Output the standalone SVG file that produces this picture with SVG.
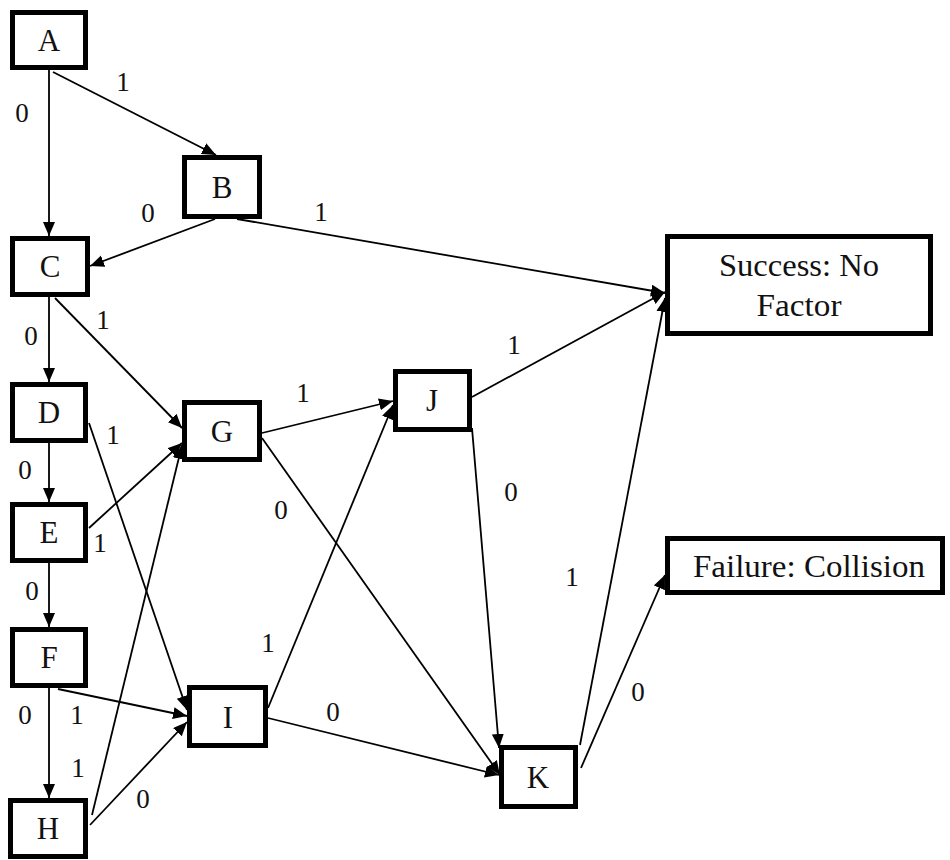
<svg xmlns="http://www.w3.org/2000/svg" width="950" height="860" viewBox="0 0 950 860">
<style>
.box{fill:#fff;stroke:#000;stroke-width:5}
.nl{font-family:"Liberation Serif","DejaVu Serif","Times New Roman",serif;font-size:31px;text-anchor:middle;fill:#111}
.el{font-family:"Liberation Serif","DejaVu Serif","Times New Roman",serif;font-size:27px;text-anchor:middle;fill:#111}
.e{stroke:#000;stroke-width:1.8;fill:none;marker-end:url(#ah)}
</style>
<defs>
<marker id="ah" markerUnits="userSpaceOnUse" markerWidth="15" markerHeight="13" refX="14" refY="6" orient="auto">
<path d="M0,0 L14,6 L0,12 z" fill="#000"/>
</marker>
</defs>
<rect width="950" height="860" fill="#fff"/>
<g id="connectors">
<line class="e" x1="49" y1="70" x2="49" y2="236"/>
<line class="e" x1="53" y1="72" x2="216" y2="155"/>
<line class="e" x1="215" y1="219" x2="90" y2="266"/>
<line class="e" x1="237" y1="219" x2="665" y2="293"/>
<line class="e" x1="49" y1="297" x2="49" y2="382"/>
<line class="e" x1="55" y1="298" x2="182" y2="428"/>
<line class="e" x1="49" y1="443" x2="49" y2="502"/>
<line class="e" x1="89" y1="423" x2="187" y2="710"/>
<line class="e" x1="89" y1="528" x2="182" y2="443"/>
<line class="e" x1="49" y1="563" x2="49" y2="627"/>
<line class="e" x1="49" y1="688" x2="49" y2="798"/>
<line class="e" x1="58" y1="689" x2="187" y2="716"/>
<line class="e" x1="92" y1="815" x2="182" y2="445"/>
<line class="e" x1="90" y1="825" x2="187" y2="722"/>
<line class="e" x1="262" y1="433" x2="393" y2="401"/>
<line class="e" x1="262" y1="438" x2="500" y2="775"/>
<line class="e" x1="268" y1="708" x2="393" y2="405"/>
<line class="e" x1="268" y1="718" x2="499" y2="775"/>
<line class="e" x1="472" y1="397" x2="665" y2="292"/>
<line class="e" x1="472" y1="428" x2="499" y2="748"/>
<line class="e" x1="580" y1="745" x2="665" y2="298"/>
<line class="e" x1="581" y1="768" x2="665" y2="575"/>
<g id="edge-labels">
<text class="el" x="123" y="91">1</text>
<text class="el" x="22" y="122">0</text>
<text class="el" x="148" y="222">0</text>
<text class="el" x="321" y="221">1</text>
<text class="el" x="31" y="345">0</text>
<text class="el" x="103" y="329">1</text>
<text class="el" x="113" y="444">1</text>
<text class="el" x="25" y="479">0</text>
<text class="el" x="100" y="552">1</text>
<text class="el" x="281" y="519">0</text>
<text class="el" x="32" y="600">0</text>
<text class="el" x="268" y="652">1</text>
<text class="el" x="25" y="724">0</text>
<text class="el" x="77" y="724">1</text>
<text class="el" x="78" y="777">1</text>
<text class="el" x="143" y="808">0</text>
<text class="el" x="303" y="402">1</text>
<text class="el" x="511" y="501">0</text>
<text class="el" x="572" y="586">1</text>
<text class="el" x="638" y="701">0</text>
<text class="el" x="514" y="354">1</text>
<text class="el" x="333" y="721">0</text>
</g>
</g>
<g id="A"><rect class="box" x="12.5" y="12.5" width="73" height="55"/><text class="nl" x="49" y="51">A</text></g>
<g id="B"><rect class="box" x="184.5" y="157.5" width="75" height="59"/><text class="nl" x="222" y="198">B</text></g>
<g id="C"><rect class="box" x="12.5" y="238.5" width="75" height="56"/><text class="nl" x="50" y="277">C</text></g>
<g id="D"><rect class="box" x="12.5" y="384.5" width="73" height="56"/><text class="nl" x="49" y="423">D</text></g>
<g id="E"><rect class="box" x="12.5" y="504.5" width="73" height="56"/><text class="nl" x="49" y="543">E</text></g>
<g id="F"><rect class="box" x="12.5" y="629.5" width="73" height="56"/><text class="nl" x="49" y="668">F</text></g>
<g id="H"><rect class="box" x="10.5" y="800.5" width="75" height="56"/><text class="nl" x="48" y="839">H</text></g>
<g id="G"><rect class="box" x="184.5" y="402.5" width="75" height="57"/><text class="nl" x="222" y="442">G</text></g>
<g id="I"><rect class="box" x="189.5" y="687.5" width="76" height="58"/><text class="nl" x="228" y="728">I</text></g>
<g id="J"><rect class="box" x="395.5" y="371.5" width="74" height="58"/><text class="nl" x="432" y="411">J</text></g>
<g id="K"><rect class="box" x="501.5" y="747.5" width="74" height="59"/><text class="nl" x="538" y="788">K</text></g>
<g id="Success"><rect class="box" x="667.5" y="236.5" width="263" height="97"/><text class="nl" x="799" y="276" textLength="160" lengthAdjust="spacingAndGlyphs">Success: No</text><text class="nl" x="799" y="316" textLength="85" lengthAdjust="spacingAndGlyphs">Factor</text></g>
<g id="Failure"><rect class="box" x="667.5" y="538.5" width="275" height="54"/><text class="nl" x="809" y="577" textLength="232" lengthAdjust="spacingAndGlyphs">Failure: Collision</text></g>
</svg>
